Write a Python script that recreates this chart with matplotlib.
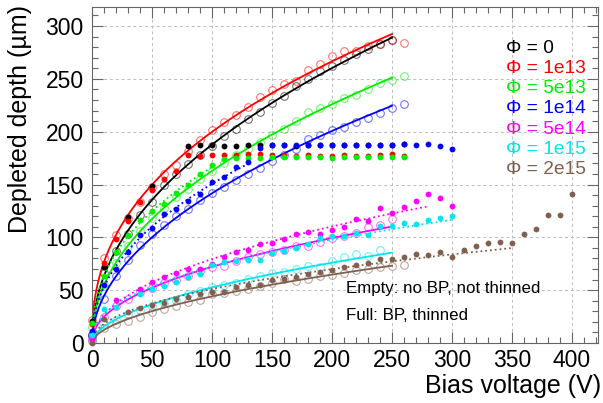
import numpy as np
import matplotlib
matplotlib.use('Agg')
import matplotlib.pyplot as plt
from matplotlib.ticker import MultipleLocator

plt.rcParams['font.family'] = ['Liberation Sans', 'DejaVu Sans']

fluences = ["0", "1e13", "5e13", "1e14", "5e14", "1e15", "2e15"]
colors = ["#000000", "#ff0000", "#00ee00", "#0000ff", "#ff00ff", "#00e5ee", "#806050"]

# Empty markers: no BP, not thinned (solid fit up to 250 V)
v_empty = list(range(0, 270, 10))
d_empty = [
    [8, 66, 87, 103, 121, 133, 150, 160, 169, 178, 186, 196, 203, 212, 219, 227,
     234, 243, 250, 257, 262, 268, 274, 278, 283, 287],
    [22, 80, 102, 118, 133, 148, 160, 168, 182, 192, 202, 209, 216, 223, 233, 239,
     245, 248, 258, 264, 272, 276, 276, 281, 283, 287, 284],
    [15, 55, 76, 92, 106, 118, 128, 138, 146, 155, 163, 170, 178, 184, 190, 197,
     203, 210, 219, 222, 226, 232, 235, 240, 246, 249, 253],
    [8, 42, 63, 79, 93, 103, 112, 120, 127, 135, 142, 148, 154, 160, 166, 172,
     178, 184, 193, 197, 202, 204, 209, 213, 218, 222, 226],
    [5, 25, 35, 42, 48, 52, 57, 60, 63, 68, 72, 73, 78, 81, 84, 86,
     88, 92, 92, 96, 99, 101, 104, 110, 112, 117],
    [3, 18, 22, 27, 31, 35, 38, 41, 46, 49, 53, 55, 57, 61, 63, 66,
     67, 70, 73, 72, 78, 81, 84, 82, 88],
    [2, 14, 18, 21, 25, 29, 32, 35, 39, 41, 46, 47, 49, 51, 54, 57,
     61, 59, 61, 63, 64, 66, 69, 70, 72, 73, 74],
]
empty_fit_end = 250

# Full markers: BP, thinned
v_full = [
    [0, 10, 30, 50] + list(range(80, 270, 10)),
    list(range(0, 270, 10)),
    list(range(0, 270, 10)),
    list(range(0, 310, 10)),
    [0, 20, 40] + list(range(50, 310, 10)),
    [0, 10, 20, 40] + list(range(50, 310, 10)),
    [0, 10] + list(range(30, 410, 10)),
]
d_full = [
    [21, 72, 119, 149, 186, 187.5, 187, 186.5, 186, 187, 187, 187, 187, 186.5,
     187, 187.5, 187, 187.5, 187, 187, 187, 187, 188],
    [18, 76, 98, 115, 133, 145, 155, 163, 178, 177, 178, 178, 178, 178.5, 179,
     178, 178, 177, 178, 177, 177, 178, 177, 177, 178, 179, 177],
    [19, 63, 86, 102, 116, 125, 132, 142, 150, 160, 168, 174, 175, 175, 175,
     176, 176, 176, 176, 176, 175, 176, 176, 176, 176, 176, 176],
    [11, 55, 70, 86, 102, 109, 122, 127, 134, 141, 152, 157, 167, 171, 185,
     187, 187, 187, 187, 187, 187.5, 187, 187, 187.5, 187, 187.5, 188,
     187.3, 188, 186.3, 183.8],
    [3.5, 41, 51, 58, 62, 66.5, 70, 70, 75, 81, 86, 88, 94, 95, 98, 103,
     105, 103, 107, 110, 117, 115, 128, 123, 129, 134, 141, 137, 130],
    [8, 32.5, 34, 46, 51, 54, 58, 62, 65, 74, 77, 77.5, 78.5, 79, 85, 87,
     90, 94, 99, 101, 101, 104, 102, 111, 111, 114, 113, 116, 118, 120],
    [0, 23, 29.5, 33.5, 36, 38, 41.3, 43.5, 46, 48.6, 48.6, 53.3, 55, 55,
     59.3, 60.2, 62.5, 65.6, 67.5, 68.7, 71.9, 73.8, 76, 79.1, 79.8, 81.7,
     83.8, 82.9, 86, 81.7, 87.6, 91.4, 95, 95.6, 94.6, 102.8, 108, 121,
     120.8, 140.6],
]
# end of the dotted fit range for full markers (None: no fit drawn)
full_fit_end = [None, None, 100, 130, 280, 300, 350]


def power_fit(v, d, vmax):
    v = np.asarray(v, float)
    d = np.asarray(d, float)
    sel = (v > 0) & (v <= vmax)
    p, lna = np.polyfit(np.log(v[sel]), np.log(d[sel]), 1)
    vv = np.linspace(1, vmax, 300)
    return vv, np.exp(lna) * vv ** p


fig = plt.figure(figsize=(6.03, 4.03), dpi=100)
ax = fig.add_axes([0.1526, 0.1489, 0.8391, 0.8337])

for i, c in enumerate(colors):
    ve = v_empty[:len(d_empty[i])]
    ax.plot(ve, d_empty[i], 'o', mfc='none', mec=c, mew=0.8, ms=5.5,
            alpha=0.55, clip_on=False, zorder=3)
    xs, ys = power_fit(ve, d_empty[i], empty_fit_end)
    ax.plot(xs, ys, '-', color=c, lw=1.3, zorder=4)

for i, c in enumerate(colors):
    ax.plot(v_full[i], d_full[i], 'o', color=c, ms=4.2, mew=0,
            clip_on=False, zorder=5)
    if full_fit_end[i] is not None:
        xs, ys = power_fit(v_full[i], d_full[i], full_fit_end[i])
        ax.plot(xs, ys, ':', color=c, lw=1.3, zorder=4)

ax.set_xlim(0, 421.7)
ax.set_ylim(0, 318)
ax.xaxis.set_major_locator(MultipleLocator(50))
ax.xaxis.set_minor_locator(MultipleLocator(10))
ax.yaxis.set_major_locator(MultipleLocator(50))
ax.yaxis.set_minor_locator(MultipleLocator(10))
ax.tick_params(which='both', direction='in', top=True, right=True,
               color='#666666', labelsize=16.5)
ax.tick_params(which='major', length=8, width=0.8)
ax.tick_params(which='minor', length=4, width=0.8)
ax.tick_params(axis='x', pad=4)
ax.tick_params(axis='y', pad=6)
for s in ax.spines.values():
    s.set_color('#666666')
    s.set_linewidth(0.8)
ax.grid(True, which='major', linestyle=(0, (3, 3)), color='#bbbbbb', lw=0.7)

ax.set_xlabel("Bias voltage (V)", fontsize=18, loc='right')
ax.xaxis.set_label_coords(1.006, -0.092)
ax.set_ylabel("Depleted depth (µm)", fontsize=18, loc='top')
ax.yaxis.set_label_coords(-0.118, 1.005)

for i, (f, c) in enumerate(zip(fluences, colors)):
    ax.text(0.818, 0.878 - i * 0.0605, f"Φ = {f}", color=c, fontsize=13.8,
            transform=ax.transAxes, va='center', ha='left')

ax.text(0.5015, 0.163, "Empty: no BP, not thinned", fontsize=12.2,
        transform=ax.transAxes, va='center', ha='left')
ax.text(0.5015, 0.083, "Full: BP, thinned", fontsize=12.2,
        transform=ax.transAxes, va='center', ha='left')

fig.savefig("out.png", dpi=100, facecolor='white')
